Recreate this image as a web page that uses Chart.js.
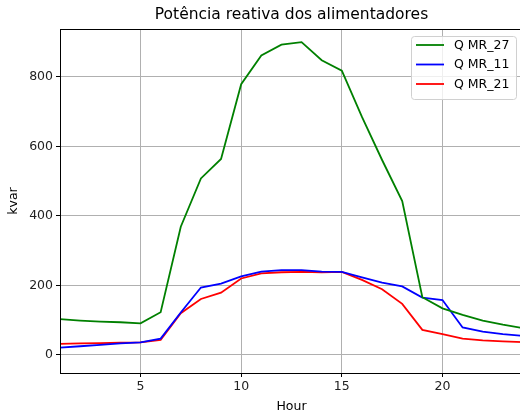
<!DOCTYPE html>
<html><head><meta charset="utf-8">
<script src="https://cdn.jsdelivr.net/npm/chart.js@4"></script>
<style>html,body{margin:0;padding:0;overflow:hidden;background:#fff;width:520px;height:414px}#wrap{width:523px;height:414px}</style>
</head><body><div id="wrap"><canvas id="c" width="523" height="414"></canvas></div>
<script>
const hours = [1,2,3,4,5,6,7,8,9,10,11,12,13,14,15,16,17,18,19,20,21,22,23,24];
const qMR27 = [103,99,96,94,91,123,369,508,564,779,862,893,900,848,818,685,561,443,166,134,115,99,87,77];
const qMR11 = [21,25,29,33,36,47,122,194,205,226,240,244,244,240,239,223,208,197,165,158,79,67,60,55];
const qMR21 = [32,33,34,35,36,43,120,161,179,220,235,238,239,238,239,216,189,147,72,60,47,42,39,37];
const seriesNames = ['Q MR_27','Q MR_11','Q MR_21'];
const seriesColors = ['#008000','#0000ff','#ff0000'];
const xTicks = [5,10,15,20];
const yTicks = [0,200,400,600,800];
const titleText = 'Potência reativa dos alimentadores';
const FONT = "'DejaVu Sans', sans-serif";

const mk = (vals,i)=>({label:seriesNames[i],data:hours.map((h,k)=>({x:h,y:vals[k]})),borderColor:seriesColors[i],backgroundColor:seriesColors[i],borderWidth:1.8,pointRadius:0,tension:0,fill:false});

const framePlugin = {
  id:'frame',
  afterDraw(chart){
    const {ctx,chartArea:a}=chart;
    ctx.save();
    ctx.strokeStyle='#000';ctx.lineWidth=1;
    ctx.strokeRect(a.left+0.5,a.top+0.5,a.right-a.left,a.bottom-a.top);
    // title
    ctx.fillStyle='#000';ctx.font="15.5px "+FONT;ctx.textAlign='center';ctx.textBaseline='middle';
    ctx.fillText(titleText,(a.left+a.right)/2,15);
    // legend
    const bx=411,by=36,bw=105,bh=63;
    ctx.fillStyle='rgba(255,255,255,0.8)';ctx.strokeStyle='#d0d0d0';
    ctx.beginPath();ctx.roundRect(bx+0.5,by+0.5,bw,bh,3);ctx.fill();ctx.stroke();
    ctx.font="12.5px "+FONT;ctx.textAlign='left';
    for(let i=0;i<3;i++){
      const y=45+i*19.5;
      ctx.strokeStyle=seriesColors[i];ctx.lineWidth=1.8;
      ctx.beginPath();ctx.moveTo(416,y);ctx.lineTo(444,y);ctx.stroke();
      ctx.fillStyle='#000';ctx.fillText(seriesNames[i],454,y+0.5);
    }
    ctx.restore();
  }
};

new Chart(document.getElementById('c'),{
  type:'line',
  data:{datasets:[mk(qMR27,0),mk(qMR11,1),mk(qMR21,2)]},
  options:{
    responsive:false,animation:false,
    layout:{padding:{top:29,right:0,left:0,bottom:0}},
    plugins:{legend:{display:false},title:{display:false},tooltip:{enabled:false}},
    scales:{
      x:{type:'linear',min:1,max:24,
        afterBuildTicks(s){s.ticks=xTicks.map(v=>({value:v}));},
        afterFit(s){s.height=41;},
        grid:{color:'#b0b0b0',lineWidth:1,tickColor:'#000',tickLength:4,drawOnChartArea:true},
        border:{display:true,color:'#000'},
        ticks:{color:'#222',font:{size:12.5,family:FONT},padding:2,maxRotation:0},
        title:{display:true,text:'Hour',color:'#000',font:{size:12.5,family:FONT},padding:{top:0,bottom:0}}
      },
      y:{type:'linear',min:-52,max:938,
        afterBuildTicks(s){s.ticks=yTicks.map(v=>({value:v}));},
        afterFit(s){s.width=60;},
        grid:{color:'#b0b0b0',lineWidth:1,tickColor:'#000',tickLength:4},
        border:{display:true,color:'#000'},
        ticks:{color:'#222',font:{size:12.5,family:FONT},padding:3},
        title:{display:true,text:'kvar',color:'#000',font:{size:12.5,family:FONT},padding:{top:6,bottom:0}}
      }
    }
  },
  plugins:[framePlugin]
});
</script></body></html>
